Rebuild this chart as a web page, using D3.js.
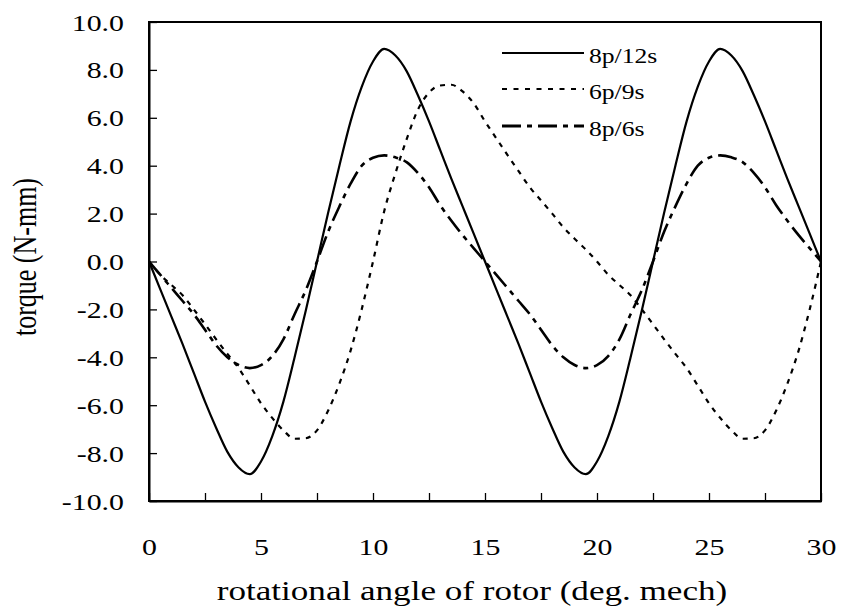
<!DOCTYPE html>
<html>
<head>
<meta charset="utf-8">
<script src="https://cdn.jsdelivr.net/npm/d3@7"></script>
<style>
  html, body { margin: 0; padding: 0; background: #fff; }
  svg { display: block; }
  text { font-family: "Liberation Serif", "Times New Roman", serif; fill: #000; }
</style>
</head>
<body>
<svg id="chart" width="842" height="615"></svg>
<script>
// ---- data ----
const angle = [0,0.5,1,1.5,2,2.5,3,3.5,4,4.5,5,5.5,6,6.5,7,7.5,8,8.5,9,9.5,10,10.5,11,11.5,12,12.5,13,13.5,14,14.5,
  15,15.5,16,16.5,17,17.5,18,18.5,19,19.5,20,20.5,21,21.5,22,22.5,23,23.5,24,24.5,25,25.5,26,26.5,27,27.5,28,28.5,29,29.5,30];

const torque8p12s = [0,-1.15,-2.3,-3.45,-4.65,-5.85,-6.95,-7.95,-8.6,-8.88,-8.35,-7.3,-5.85,-4.0,-2.05,0,
  2.05,4.0,5.85,7.3,8.35,8.88,8.6,7.95,6.95,5.85,4.65,3.45,2.3,1.15,
  0,-1.15,-2.3,-3.45,-4.65,-5.85,-6.95,-7.95,-8.6,-8.88,-8.35,-7.3,-5.85,-4.0,-2.05,0,
  2.05,4.0,5.85,7.3,8.35,8.88,8.6,7.95,6.95,5.85,4.65,3.45,2.3,1.15,0];

const torque6p9s = [0,-0.55,-0.98,-1.41,-2.0,-2.62,-3.25,-3.86,-4.45,-5.18,-5.92,-6.53,-7.05,-7.4,-7.38,-7.05,
  -6.22,-5.1,-3.72,-1.98,0,2.1,3.68,5.1,6.33,7.05,7.35,7.38,7.1,6.6,
  5.85,5.15,4.45,3.77,3.1,2.55,2.0,1.43,0.95,0.5,0,-0.55,-0.98,-1.41,-2.0,-2.62,
  -3.25,-3.86,-4.45,-5.18,-5.92,-6.53,-7.05,-7.4,-7.38,-7.05,-6.22,-5.1,-3.72,-1.98,0];

const torque8p6s = [0,-0.55,-1.1,-1.65,-2.2,-2.85,-3.5,-4.0,-4.32,-4.45,-4.33,-3.95,-3.25,-2.2,-1.2,0,
  1.25,2.3,3.25,4.0,4.33,4.43,4.35,4.15,3.7,3.1,2.35,1.7,1.1,0.55,
  0,-0.55,-1.1,-1.65,-2.2,-2.85,-3.5,-4.0,-4.32,-4.45,-4.33,-3.95,-3.25,-2.2,-1.2,0,
  1.25,2.3,3.25,4.0,4.33,4.43,4.35,4.15,3.7,3.1,2.35,1.7,1.1,0.55,0];

const seriesNames = ["8p/12s", "6p/9s", "8p/6s"];
const xTicks = [0,2.5,5,7.5,10,12.5,15,17.5,20,22.5,25,27.5,30];
const yTicks = [-10,-8,-6,-4,-2,0,2,4,6,8,10];
const xTitle = "rotational angle of rotor (deg. mech)";
const yTitle = "torque (N-mm)";

(function () {
// ---- layout ----
const svg = d3.select("#chart");
const mL = 149, mR = 821, mT = 22, mB = 501;
const x = d3.scaleLinear().domain([0, 30]).range([mL, mR]);
const y = d3.scaleLinear().domain([-10, 10]).range([mB, mT]);
const SX = 1.3; // horizontal glyph stretch of the original

const styles = [
  { dash: null, width: 2.2 },
  { dash: "5,6", width: 2.2 },
  { dash: "19,6,5,6", width: 2.6 }
];
const seriesVals = [torque8p12s, torque6p9s, torque8p6s];

// curves
const line = d3.line().x(d => x(d[0])).y(d => y(d[1])).curve(d3.curveMonotoneX);
const plot = svg.append("g");
seriesVals.forEach((vals, i) => {
  const pts = angle.map((a, k) => [a, vals[k]]);
  plot.append("path")
    .datum(pts)
    .attr("d", line)
    .attr("fill", "none")
    .attr("stroke", "#000")
    .attr("stroke-width", styles[i].width)
    .attr("stroke-dasharray", styles[i].dash)
    .attr("stroke-linejoin", "round");
});

// frame
svg.append("rect")
  .attr("x", mL).attr("y", mT)
  .attr("width", mR - mL).attr("height", mB - mT)
  .attr("fill", "none").attr("stroke", "#000").attr("stroke-width", 2);

// x axis
const xAxis = d3.axisBottom(x).tickValues(xTicks)
  .tickSizeInner(-8).tickSizeOuter(0)
  .tickFormat(d => (d % 5 === 0 ? String(d) : ""));
const gx = svg.append("g").attr("transform", `translate(0,${mB})`).call(xAxis);
gx.select(".domain").attr("stroke-width", 2);
gx.selectAll(".tick line").attr("stroke-width", 1.3);
gx.selectAll(".tick text")
  .attr("x", null).attr("y", null).attr("dy", null)
  .attr("transform", `translate(0,54) scale(${SX},1)`)
  .attr("text-anchor", "middle")
  .style("font-size", "23px")
  .style("font-family", '"Liberation Serif", serif');

// y axis
const yAxis = d3.axisLeft(y).tickValues(yTicks)
  .tickSizeInner(-8).tickSizeOuter(0)
  .tickFormat(d => d.toFixed(1));
const gy = svg.append("g").attr("transform", `translate(${mL},0)`).call(yAxis);
gy.select(".domain").attr("stroke-width", 2);
gy.selectAll(".tick line").attr("stroke-width", 1.3);
gy.selectAll(".tick text")
  .attr("x", null).attr("y", null).attr("dy", null)
  .attr("transform", `translate(-25,8) scale(${SX},1)`)
  .attr("text-anchor", "end")
  .style("font-size", "23px")
  .style("font-family", '"Liberation Serif", serif');

// axis titles
svg.append("text")
  .attr("transform", `translate(472,600) scale(${SX},1)`)
  .attr("text-anchor", "middle")
  .style("font-size", "27px")
  .text(xTitle);

svg.append("text")
  .attr("transform", `translate(36,257) rotate(-90) scale(1,${SX})`)
  .attr("text-anchor", "middle")
  .style("font-size", "26px")
  .text(yTitle);

// legend
const legend = svg.append("g");
const legY = [53, 89, 126];
seriesNames.forEach((name, i) => {
  legend.append("line")
    .attr("x1", 502).attr("x2", 584)
    .attr("y1", legY[i]).attr("y2", legY[i])
    .attr("stroke", "#000")
    .attr("stroke-width", i === 2 ? 3.2 : 2)
    .attr("stroke-dasharray", i === 0 ? null : (i === 1 ? "5,6.5" : "19,6,5,6"));
  legend.append("text")
    .attr("transform", `translate(589,${legY[i] + 9.5}) scale(1.22,1)`)
    .style("font-size", "21px")
    .text(name);
});
})();
</script>
</body>
</html>
